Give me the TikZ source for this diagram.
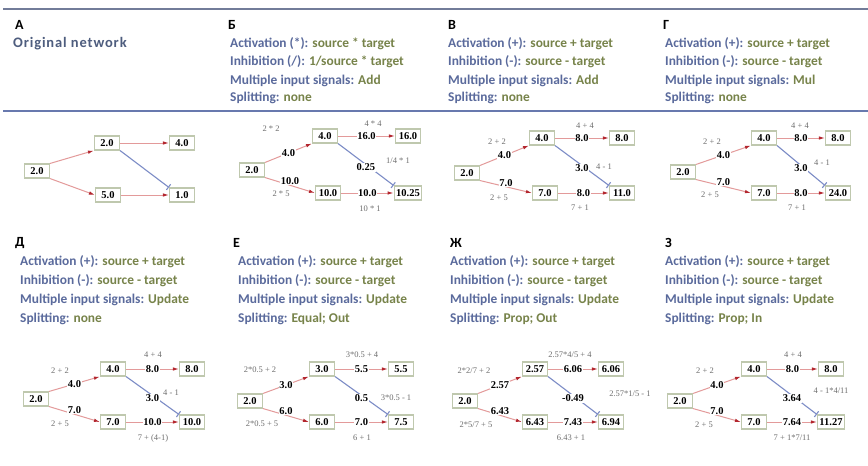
\documentclass[tikz,border=0pt]{standalone}
\usepackage{fontspec}
\setmainfont{Liberation Serif}
\newfontfamily\calf{Carlito}
\newfontfamily\calwide[LetterSpace=6]{Carlito}
\usetikzlibrary{arrows.meta}
\definecolor{lblue}{HTML}{5A6A9C}
\definecolor{lgreen}{HTML}{77834A}
\definecolor{lslate}{HTML}{4E5D7E}
\definecolor{boxc}{HTML}{BFC8AE}
\definecolor{actc}{HTML}{E39A9A}
\definecolor{acth}{HTML}{B3262E}
\definecolor{inhc}{HTML}{7C8CC6}
\definecolor{rulec}{HTML}{6879AE}
\definecolor{frmc}{HTML}{6E6E6E}
\tikzset{
  box/.style={draw=boxc, line width=1.1pt, fill=white, font=\bfseries\fontsize{10.5}{12}\selectfont, minimum width=25pt, minimum height=14pt, inner xsep=2pt, inner ysep=1pt},
  act/.style={draw=actc, line width=1pt, -{Latex[length=6pt,width=3.5pt,color=acth]}},
  inh/.style={draw=inhc, line width=1.1pt, -{Bar[width=7pt,line width=1.1pt,color=inhc]}},
  val/.style={font=\bfseries\fontsize{10.5}{12}\selectfont, fill=white, inner sep=0.5pt},
  lval/.style={val, yshift=4pt},
  ival/.style={val, yshift=-3pt},
  frm/.style={font=\fontsize{8.5}{10}\selectfont, text=frmc, inner sep=0pt},
  plet/.style={font=\calf\bfseries\fontsize{14}{16}\selectfont, anchor=west, inner sep=0pt},
  ptxt/.style={font=\calf\bfseries\fontsize{13.4}{15}\selectfont, anchor=west, inner sep=0pt},
}
\newcommand\kv[2]{\textcolor{lblue}{#1} \textcolor{lgreen}{#2}}
\begin{document}
\begin{tikzpicture}[x=1pt,y=-1pt]
\useasboundingbox (0,0) rectangle (868,466);
\fill[white] (0,0) rectangle (868,466);
\draw[rulec!55!gray, line width=1.8pt] (3,9) -- (868,9);
\draw[rulec, line width=1.8pt] (3,111) -- (868,111);

% ---------- A
\node[plet] (tA) at (15,25) {А};
\node[font=\calwide\bfseries\fontsize{14.5}{17}\selectfont, text=lslate, anchor=west, inner sep=0pt] (oA) at (13,44) {Original network};
\node[box] (A1) at (37,171) {2.0};
\node[box] (A2) at (107,143) {2.0};
\node[box] (A3) at (182,143) {4.0};
\node[box] (A4) at (108,195) {5.0};
\node[box] (A5) at (182,195) {1.0};
\draw[act] (A1.north east) -- (A2.south west);
\draw[act] (A1.south east) -- (A4.west);
\draw[act] (A2) -- (A3);
\draw[act] (A4) -- (A5);
\draw[inh] (A2.south east) -- (A5.north west);

% ---------- B
\node[plet] (tB) at (228,25) {Б};
\node[ptxt] (b1) at (230,44) {\kv{Activation (*):}{source * target}};
\node[ptxt] (b2) at (230,62) {\kv{Inhibition (/):}{1/source * target}};
\node[ptxt] (b3) at (230,81) {\kv{Multiple input signals:}{Add}};
\node[ptxt] (b4) at (230,98) {\kv{Splitting:}{none}};
\node[box] (B1) at (252,170) {2.0};
\node[box] (B2) at (325,136) {4.0};
\node[box] (B3) at (408,136) {16.0};
\node[box] (B4) at (328,193) {10.0};
\node[box] (B5) at (408,193) {10.25};
\draw[act] (B1.north east) -- node[val] (B12v) {4.0} (B2.south west);
\draw[act] (B1.south east) -- node[lval] (B14v) {10.0} (B4.west);
\draw[act] (B2) -- node[val] (B23v) {16.0} (B3);
\draw[act] (B4) -- node[val] (B45v) {10.0} (B5);
\draw[inh] (B2.south east) -- node[ival] (B25v) {0.25} (B5.north west);
\node[frm] (B12f) at (271,129) {2 * 2};
\node[frm] (B14f) at (281,194) {2 * 5};
\node[frm] (B23f) at (373,124) {4 * 4};
\node[frm] (B45f) at (370,209) {10 * 1};
\node[frm] (B25f) at (398,161) {1/4 * 1};

% ---------- V
\node[plet] (tV) at (448,25) {В};
\node[ptxt] (v1) at (448,44) {\kv{Activation (+):}{source + target}};
\node[ptxt] (v2) at (448,62) {\kv{Inhibition (-):}{source - target}};
\node[ptxt] (v3) at (448,81) {\kv{Multiple input signals:}{Add}};
\node[ptxt] (v4) at (448,98) {\kv{Splitting:}{none}};
\node[box] (V1) at (467,173) {2.0};
\node[box] (V2) at (542,138) {4.0};
\node[box] (V3) at (622,138) {8.0};
\node[box] (V4) at (545,193) {7.0};
\node[box] (V5) at (622,193) {11.0};
\draw[act] (V1.north east) -- node[val] (V12v) {4.0} (V2.south west);
\draw[act] (V1.south east) -- node[lval] (V14v) {7.0} (V4.west);
\draw[act] (V2) -- node[val] (V23v) {8.0} (V3);
\draw[act] (V4) -- node[val] (V45v) {8.0} (V5);
\draw[inh] (V2.south east) -- node[ival] (V25v) {3.0} (V5.north west);
\node[frm] (V12f) at (497,142) {2 + 2};
\node[frm] (V14f) at (499,198) {2 + 5};
\node[frm] (V23f) at (585,126) {4 + 4};
\node[frm] (V45f) at (580,208) {7 + 1};
\node[frm] (V25f) at (604,167) {4 - 1};

% ---------- G
\node[plet] (tG) at (663,25) {Г};
\node[ptxt] (g1) at (665,44) {\kv{Activation (+):}{source + target}};
\node[ptxt] (g2) at (665,62) {\kv{Inhibition (-):}{source - target}};
\node[ptxt] (g3) at (665,81) {\kv{Multiple input signals:}{Mul}};
\node[ptxt] (g4) at (665,98) {\kv{Splitting:}{none}};
\node[box] (G1) at (683,172) {2.0};
\node[box] (G2) at (764,138) {4.0};
\node[box] (G3) at (838,138) {8.0};
\node[box] (G4) at (764,193) {7.0};
\node[box] (G5) at (838,193) {24.0};
\draw[act] (G1.north east) -- node[val] (G12v) {4.0} (G2.south west);
\draw[act] (G1.south east) -- node[lval] (G14v) {7.0} (G4.west);
\draw[act] (G2) -- node[val] (G23v) {8.0} (G3);
\draw[act] (G4) -- node[val] (G45v) {8.0} (G5);
\draw[inh] (G2.south east) -- node[ival] (G25v) {3.0} (G5.north west);
\node[frm] (G12f) at (712,142) {2 + 2};
\node[frm] (G14f) at (710,195) {2 + 5};
\node[frm] (G23f) at (800,126) {4 + 4};
\node[frm] (G45f) at (797,208) {7 + 1};
\node[frm] (G25f) at (822,163) {4 - 1};

% ---------- D
\node[plet] (tD) at (15,243) {Д};
\node[ptxt] (d1) at (20,262) {\kv{Activation (+):}{source + target}};
\node[ptxt] (d2) at (20,281) {\kv{Inhibition (-):}{source - target}};
\node[ptxt] (d3) at (20,300) {\kv{Multiple input signals:}{Update}};
\node[ptxt] (d4) at (20,319) {\kv{Splitting:}{none}};
\node[box] (D1) at (36,399) {2.0};
\node[box] (D2) at (113,369) {4.0};
\node[box] (D3) at (192,369) {8.0};
\node[box] (D4) at (113,422) {7.0};
\node[box] (D5) at (192,422) {10.0};
\draw[act] (D1.north east) -- node[val] (D12v) {4.0} (D2.south west);
\draw[act] (D1.south east) -- node[lval] (D14v) {7.0} (D4.west);
\draw[act] (D2) -- node[val] (D23v) {8.0} (D3);
\draw[act] (D4) -- node[val] (D45v) {10.0} (D5);
\draw[inh] (D2.south east) -- node[ival] (D25v) {3.0} (D5.north west);
\node[frm] (D12f) at (60,371) {2 + 2};
\node[frm] (D14f) at (60,424) {2 + 5};
\node[frm] (D23f) at (153,355) {4 + 4};
\node[frm] (D45f) at (153,438) {7 + (4-1)};
\node[frm] (D25f) at (171,393) {4 - 1};

% ---------- E
\node[plet] (tE) at (233,243) {Е};
\node[ptxt] (e1) at (238,262) {\kv{Activation (+):}{source + target}};
\node[ptxt] (e2) at (238,281) {\kv{Inhibition (-):}{source - target}};
\node[ptxt] (e3) at (238,300) {\kv{Multiple input signals:}{Update}};
\node[ptxt] (e4) at (238,319) {\kv{Splitting:}{Equal; Out}};
\node[box] (E1) at (250,401) {2.0};
\node[box] (E2) at (322,369) {3.0};
\node[box] (E3) at (401,369) {5.5};
\node[box] (E4) at (322,422) {6.0};
\node[box] (E5) at (401,422) {7.5};
\draw[act] (E1.north east) -- node[val] (E12v) {3.0} (E2.south west);
\draw[act] (E1.south east) -- node[lval] (E14v) {6.0} (E4.west);
\draw[act] (E2) -- node[val] (E23v) {5.5} (E3);
\draw[act] (E4) -- node[val] (E45v) {7.0} (E5);
\draw[inh] (E2.south east) -- node[ival] (E25v) {0.5} (E5.north west);
\node[frm] (E12f) at (260,370) {2*0.5 + 2};
\node[frm] (E14f) at (262,424) {2*0.5 + 5};
\node[frm] (E23f) at (362,355) {3*0.5 + 4};
\node[frm] (E45f) at (362,438) {6 + 1};
\node[frm] (E25f) at (396,398) {3*0.5 - 1};

% ---------- Zh
\node[plet] (tZh) at (450,243) {Ж};
\node[ptxt] (z1) at (450,262) {\kv{Activation (+):}{source + target}};
\node[ptxt] (z2) at (450,281) {\kv{Inhibition (-):}{source - target}};
\node[ptxt] (z3) at (450,300) {\kv{Multiple input signals:}{Update}};
\node[ptxt] (z4) at (450,319) {\kv{Splitting:}{Prop; Out}};
\node[box] (Z1) at (465,401) {2.0};
\node[box] (Z2) at (535,369) {2.57};
\node[box] (Z3) at (611,369) {6.06};
\node[box] (Z4) at (535,422) {6.43};
\node[box] (Z5) at (611,422) {6.94};
\draw[act] (Z1.north east) -- node[val] (Z12v) {2.57} (Z2.south west);
\draw[act] (Z1.south east) -- node[lval] (Z14v) {6.43} (Z4.west);
\draw[act] (Z2) -- node[val] (Z23v) {6.06} (Z3);
\draw[act] (Z4) -- node[val] (Z45v) {7.43} (Z5);
\draw[inh] (Z2.south east) -- node[ival] (Z25v) {-0.49} (Z5.north west);
\node[frm] (Z12f) at (474,371) {2*2/7 + 2};
\node[frm] (Z14f) at (476,425) {2*5/7 + 5};
\node[frm] (Z23f) at (570,355) {2.57*4/5 + 4};
\node[frm] (Z45f) at (571,438) {6.43 + 1};
\node[frm] (Z25f) at (630,394) {2.57*1/5 - 1};

% ---------- Z
\node[plet] (tZ) at (665,243) {З};
\node[ptxt] (w1) at (665,262) {\kv{Activation (+):}{source + target}};
\node[ptxt] (w2) at (665,281) {\kv{Inhibition (-):}{source - target}};
\node[ptxt] (w3) at (665,300) {\kv{Multiple input signals:}{Update}};
\node[ptxt] (w4) at (665,319) {\kv{Splitting:}{Prop; In}};
\node[box] (W1) at (680,401) {2.0};
\node[box] (W2) at (754,369) {4.0};
\node[box] (W3) at (831,369) {8.0};
\node[box] (W4) at (754,422) {7.0};
\node[box] (W5) at (831,422) {11.27};
\draw[act] (W1.north east) -- node[val] (W12v) {4.0} (W2.south west);
\draw[act] (W1.south east) -- node[lval] (W14v) {7.0} (W4.west);
\draw[act] (W2) -- node[val] (W23v) {8.0} (W3);
\draw[act] (W4) -- node[val] (W45v) {7.64} (W5);
\draw[inh] (W2.south east) -- node[ival] (W25v) {3.64} (W5.north west);
\node[frm] (W12f) at (705,371) {2 + 2};
\node[frm] (W14f) at (704,425) {2 + 5};
\node[frm] (W23f) at (793,355) {4 + 4};
\node[frm] (W45f) at (792,438) {7 + 1*7/11};
\node[frm] (W25f) at (831,391) {4 - 1*4/11};
\end{tikzpicture}
\end{document}
